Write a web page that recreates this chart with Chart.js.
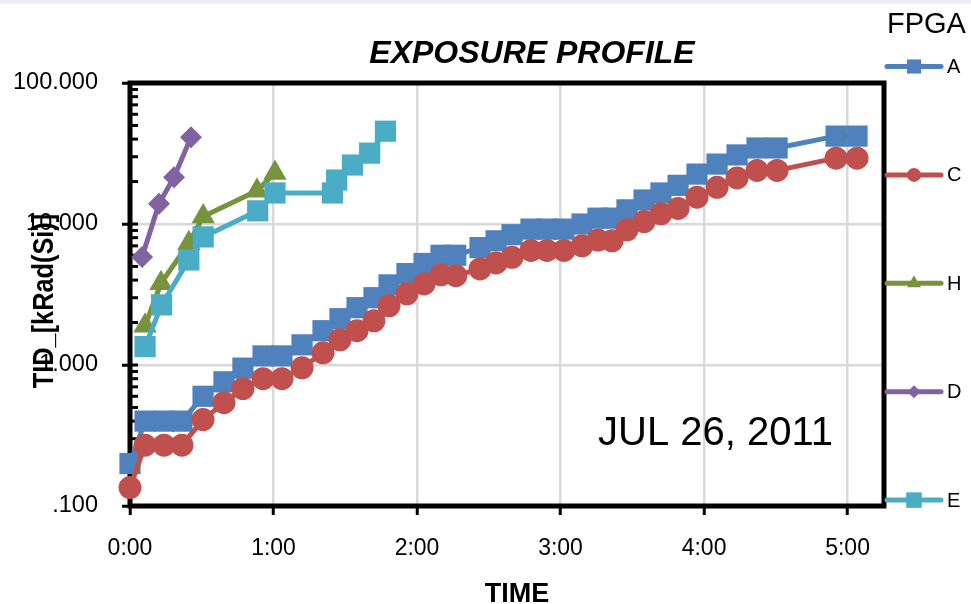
<!DOCTYPE html>
<html><head><meta charset="utf-8">
<script src="https://cdn.jsdelivr.net/npm/chart.js@4.4.1/dist/chart.umd.min.js"></script>
<style>html,body{margin:0;padding:0;background:#fff;}canvas{display:block;}</style>
</head><body>
<canvas id="c" width="971" height="604"></canvas>
<script>
// ---- data (time in hours, TID in kRad(Si)) ----
const seriesNames = ['A','C','H','D','E'];
const timeAC = [0,0.105,0.237,0.362,0.509,0.655,0.787,0.927,1.059,1.199,1.345,1.463,1.582,1.700,1.805,1.930,2.049,2.167,2.270,2.439,2.551,2.662,2.794,2.906,3.024,3.150,3.261,3.359,3.463,3.582,3.700,3.819,3.951,4.091,4.230,4.369,4.509,4.920,5.066];
const valuesA = [0.20,0.40,0.40,0.40,0.60,0.76,0.95,1.16,1.16,1.39,1.75,2.13,2.55,3.0,3.7,4.45,5.25,6.0,6.0,6.8,7.6,8.4,9.2,9.2,9.2,10.0,11.0,11.0,12.6,14.8,16.6,18.8,22.6,26.6,30.9,34.6,34.6,42,42];
const valuesC = [0.135,0.27,0.27,0.27,0.41,0.54,0.68,0.80,0.80,0.955,1.22,1.51,1.75,2.06,2.63,3.2,3.76,4.36,4.3,4.8,5.3,5.8,6.5,6.5,6.5,7.0,7.7,7.6,9.1,10.4,11.8,12.9,15.5,18.2,21.2,24.0,24.0,29.3,29.3];
const timeH = [0.105,0.216,0.41,0.51,0.885,1.01];
const valuesH = [1.9,3.8,7.3,11.3,17.2,23.0];
const timeD = [0.084,0.202,0.307,0.425];
const valuesD = [5.84,13.9,21.5,41.3];
const timeE = [0.105,0.22,0.41,0.51,0.89,1.01,1.41,1.44,1.55,1.67,1.78];
const valuesE = [1.35,2.67,5.56,8.1,12.4,16.6,16.6,20.5,26.2,31.8,45.5];
const xTickValues = [0,1,2,3,4,5];
const xTickLabels = ['0:00','1:00','2:00','3:00','4:00','5:00'];
const yTickValues = [0.1,1,10,100];
const yTickLabels = ['.100','1.000','10.000','100.000'];

const pts = (t, v) => t.map((x, i) => ({x: x, y: v[i]}));

function ds(label, t, v, color, style, radius, legendRadius, order) {
  return {
    label, data: pts(t, v), borderColor: color, backgroundColor: color,
    pointBackgroundColor: color, pointBorderColor: color, pointBorderWidth: 0,
    pointStyle: style, pointRadius: radius, pointHoverRadius: radius,
    borderWidth: 5, tension: 0, borderJoinStyle: 'round', borderCapStyle: 'round',
    clip: false, order, legendRadius
  };
}

const datasets = [
  ds(seriesNames[0], timeAC, valuesA, '#4F81BD', 'rect', 15, 10, 5),
  ds(seriesNames[1], timeAC, valuesC, '#C0504D', 'circle', 11.5, 7, 4),
  ds(seriesNames[2], timeH, valuesH, '#77933C', 'triangle', 13.5, 8, 3),
  ds(seriesNames[3], timeD, valuesD, '#8064A2', 'rectRot', 11, 6.5, 2),
  ds(seriesNames[4], timeE, valuesE, '#4BACC6', 'rect', 15, 11, 1)
];

function marker(ctx, style, x, y, r) {
  ctx.beginPath();
  if (style === 'rect') { const s = r * Math.SQRT1_2; ctx.rect(x - s, y - s, 2 * s, 2 * s); }
  else if (style === 'circle') { ctx.arc(x, y, r, 0, Math.PI * 2); }
  else if (style === 'triangle') {
    ctx.moveTo(x, y - r);
    ctx.lineTo(x + Math.sin(2 * Math.PI / 3) * r, y + r / 2);
    ctx.lineTo(x - Math.sin(2 * Math.PI / 3) * r, y + r / 2);
    ctx.closePath();
  } else if (style === 'rectRot') {
    ctx.moveTo(x - r, y); ctx.lineTo(x, y - r); ctx.lineTo(x + r, y); ctx.lineTo(x, y + r); ctx.closePath();
  }
  ctx.fill();
}

const deco = {
  id: 'deco',
  beforeDraw(chart) {
    const ctx = chart.ctx;
    ctx.save();
    ctx.fillStyle = '#fff'; ctx.fillRect(0, 0, chart.width, chart.height);
    ctx.fillStyle = '#eeeef4'; ctx.fillRect(0, 0, chart.width, 4);
    ctx.restore();
  },
  beforeDatasetsDraw(chart) {
    const {ctx, chartArea: a, scales: {y}} = chart;
    ctx.save();
    ctx.strokeStyle = '#000';
    ctx.lineWidth = 3;
    for (let d = -1; d < 2; d++) {
      for (let m = 1; m <= 9; m++) {
        const py = y.getPixelForValue(m * Math.pow(10, d));
        ctx.beginPath(); ctx.moveTo(a.left, py); ctx.lineTo(a.left + 8, py); ctx.stroke();
      }
    }
    ctx.lineWidth = 5;
    ctx.strokeRect(a.left, a.top, a.right - a.left, a.bottom - a.top);
    ctx.restore();
  },
  afterDatasetsDraw(chart) {
    const ctx = chart.ctx;
    ctx.save();
    ctx.fillStyle = '#000';
    // title
    ctx.textAlign = 'center'; ctx.textBaseline = 'alphabetic';
    ctx.font = 'italic bold 32px "Liberation Sans", Arial, sans-serif';
    ctx.fillText('EXPOSURE PROFILE', 532, 63);
    // x title
    ctx.font = 'bold 27px "Liberation Sans", Arial, sans-serif';
    ctx.fillText('TIME', 517, 602);
    // y title (rotated)
    ctx.save();
    ctx.translate(53, 301);
    ctx.rotate(-Math.PI / 2);
    ctx.scale(1, 1.18);
    let fs = 30;
    ctx.font = 'bold ' + fs + 'px "Liberation Sans Narrow", "Liberation Sans", Arial, sans-serif';
    const w = ctx.measureText('TID_[kRad(Si)]').width;
    fs = fs * 174 / w;
    ctx.font = 'bold ' + fs.toFixed(1) + 'px "Liberation Sans Narrow", "Liberation Sans", Arial, sans-serif';
    ctx.textAlign = 'center';
    ctx.fillText('TID_[kRad(Si)]', 0, 0);
    ctx.restore();
    // date annotation
    ctx.textAlign = 'left';
    ctx.font = '40px "Liberation Sans", Arial, sans-serif';
    ctx.fillText('JUL 26, 2011', 598, 445);
    // legend
    ctx.font = '29px "Liberation Sans", Arial, sans-serif';
    ctx.fillText('FPGA', 887, 33);
    ctx.font = '20px "Liberation Sans", Arial, sans-serif';
    ctx.textBaseline = 'middle';
    chart.data.datasets.forEach((d, i) => {
      const ly = 66.5 + i * 108.4;
      ctx.strokeStyle = d.borderColor; ctx.lineWidth = 5; ctx.lineCap = 'round';
      ctx.beginPath(); ctx.moveTo(887, ly); ctx.lineTo(941, ly); ctx.stroke();
      ctx.fillStyle = d.backgroundColor;
      marker(ctx, d.pointStyle, 914, ly, d.legendRadius);
      ctx.fillStyle = '#000';
      ctx.fillText(d.label, 947, ly + 1);
    });
    ctx.restore();
  }
};

new Chart(document.getElementById('c'), {
  type: 'line',
  data: { datasets },
  plugins: [deco],
  options: {
    responsive: false, animation: false, devicePixelRatio: 1,
    layout: { padding: { top: 83, right: 87, left: 0, bottom: 0 } },
    plugins: { legend: { display: false }, title: { display: false }, tooltip: { enabled: false } },
    scales: {
      x: {
        type: 'linear', min: 0, max: 5.254,
        afterBuildTicks: s => { s.ticks = xTickValues.map(v => ({value: v})); },
        afterFit: s => { s.height = 98; },
        ticks: { callback: (v, i) => xTickLabels[i], color: '#000', padding: 20,
                 font: { family: '"Liberation Sans", Arial, sans-serif', size: 23 }, maxRotation: 0, autoSkip: false },
        grid: { color: '#d9d9d9', lineWidth: 2.5, tickColor: '#000', tickWidth: 3, tickLength: 9 },
        border: { display: false }
      },
      y: {
        type: 'logarithmic', min: 0.1, max: 100,
        afterBuildTicks: s => { s.ticks = yTickValues.map(v => ({value: v})); },
        afterFit: s => { s.width = 130; },
        ticks: { callback: (v, i) => yTickLabels[i], color: '#000', padding: 24,
                 font: { family: '"Liberation Sans", Arial, sans-serif', size: 23.5 }, autoSkip: false },
        grid: { color: '#d9d9d9', lineWidth: 2.5, tickColor: '#000', tickWidth: 3, tickLength: 8 },
        border: { display: false }
      }
    }
  }
});
</script>
</body></html>
